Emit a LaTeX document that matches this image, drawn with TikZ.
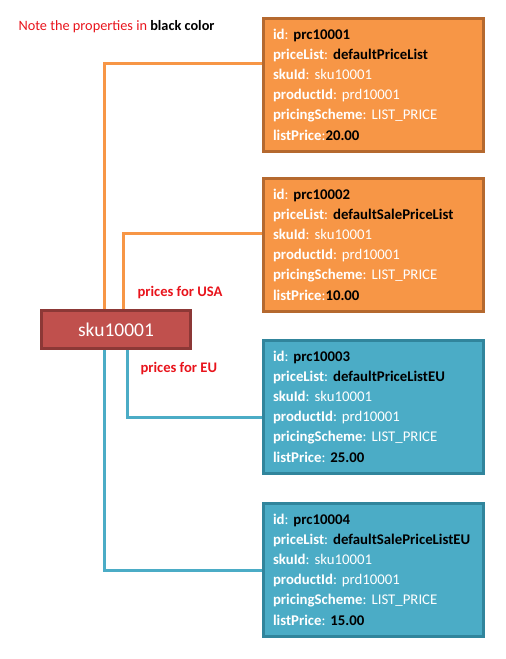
\documentclass[tikz,border=0pt]{standalone}
\usepackage{fontspec}
\setmainfont{Carlito}
\frenchspacing
\definecolor{boxorange}{HTML}{F79646}
\definecolor{lineorange}{HTML}{B5692F}
\definecolor{boxblue}{HTML}{4BACC6}
\definecolor{lineblue}{HTML}{31859C}
\definecolor{boxred}{HTML}{C0504D}
\definecolor{linered}{HTML}{8C3836}
\definecolor{notered}{HTML}{E8141C}
\tikzset{
  pricebox/.style={draw=line#1, fill=box#1, line width=3pt, anchor=north west,
    align=left, text width=200pt, inner xsep=10pt, minimum height=133pt,
    text=white, font=\fontsize{14.8}{20.2}\selectfont},
  skubox/.style={draw=linered, fill=boxred, line width=3pt, minimum width=149pt,
    minimum height=38pt, text=white, font=\fontsize{19.5}{20}\selectfont},
  link/.style={line width=3pt, draw=box#1},
  note/.style={anchor=west, text=notered, font=\fontsize{14.3}{15}\selectfont}
}
\begin{document}
\begin{tikzpicture}[x=1pt,y=-1pt]
                \def\kv#1#2{\textbf{#1}:#2}
                \def\bv#1{\textbf{\color{black}#1}}
                \useasboundingbox (0,0) rectangle (506,659);
                \node[note] (head) at (15,27) {Note the properties in \textbf{\color{black}black color}};
                %===========================================
                \node[skubox] (sku) at (116,329.5) {sku10001};
                \node[pricebox=orange] (prc1) at (261.5,16.5) {
                    \kv{id}{~\bv{prc10001}}\\ \kv{priceList}{~\bv{defaultPriceList}}\\
                    \kv{skuId}{~sku10001}\\ \kv{productId}{~prd10001}\\
                    \kv{pricingScheme}{~LIST\_PRICE}\\ \kv{listPrice}{\bv{20.00}}};
                \node[pricebox=orange] (prc2) at (261.5,176.5) {
                    \kv{id}{~\bv{prc10002}}\\ \kv{priceList}{~\bv{defaultSalePriceList}}\\
                    \kv{skuId}{~sku10001}\\ \kv{productId}{~prd10001}\\
                    \kv{pricingScheme}{~LIST\_PRICE}\\ \kv{listPrice}{\bv{10.00}}};
                \node[pricebox=blue] (prc3) at (261.5,338.5) {
                    \kv{id}{~\bv{prc10003}}\\ \kv{priceList}{~\bv{defaultPriceListEU}}\\
                    \kv{skuId}{~sku10001}\\ \kv{productId}{~prd10001}\\
                    \kv{pricingScheme}{~LIST\_PRICE}\\ \kv{listPrice}{~\bv{25.00}}};
                \node[pricebox=blue] (prc4) at (261.5,501.5) {
                    \kv{id}{~\bv{prc10004}}\\ \kv{priceList}{~\bv{defaultSalePriceListEU}}\\
                    \kv{skuId}{~sku10001}\\ \kv{productId}{~prd10001}\\
                    \kv{pricingScheme}{~LIST\_PRICE}\\ \kv{listPrice}{~\bv{15.00}}};
                %===========================================
                \draw[link=orange] ([xshift=64.5pt]sku.north west) |- ([yshift=-46.5pt]prc1.north west);
                \draw[link=orange] ([xshift=83.5pt]sku.north west) |- ([yshift=-56.5pt]prc2.north west);
                \draw[link=blue] ([xshift=87.5pt]sku.south west) |- ([yshift=-78.5pt]prc3.north west);
                \draw[link=blue] ([xshift=64.5pt]sku.south west) |- ([yshift=-68.5pt]prc4.north west);
                \node[note, font=\bfseries\fontsize{14.6}{15}\selectfont] (usa) at (134,293) {prices for USA};
                \node[note, font=\bfseries\fontsize{14.6}{15}\selectfont] (eu) at (137,369) {prices for EU};
\end{tikzpicture}
\end{document}
